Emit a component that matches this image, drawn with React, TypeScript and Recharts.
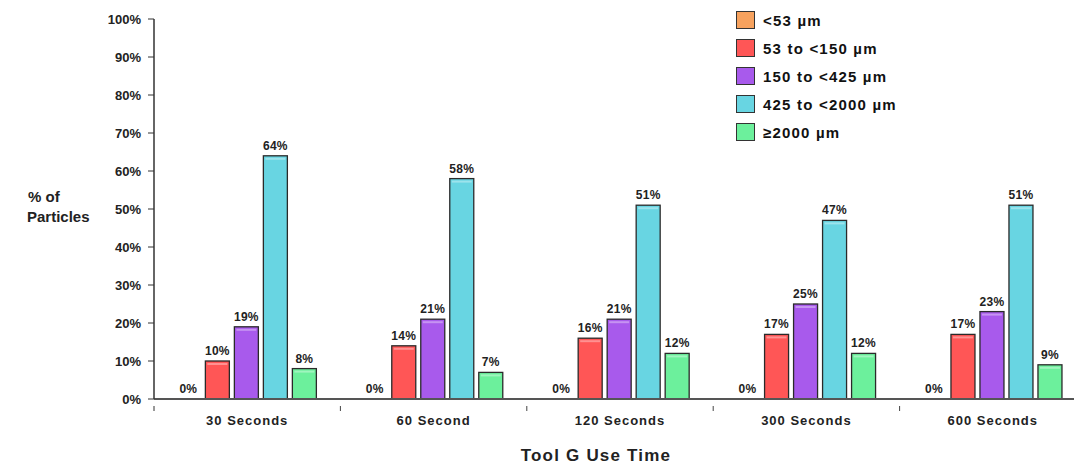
import React from "react";
import { BarChart, Bar, XAxis, YAxis, LabelList, Label } from "recharts";

const categories = ["30 Seconds", "60 Second", "120 Seconds", "300 Seconds", "600 Seconds"];
const under53 = [0, 0, 0, 0, 0];
const from53 = [10, 14, 16, 17, 17];
const from150 = [19, 21, 21, 25, 23];
const from425 = [64, 58, 51, 47, 51];
const over2000 = [8, 7, 12, 12, 9];
const yTicks = [0, 10, 20, 30, 40, 50, 60, 70, 80, 90, 100];

const seriesList = [
  { key: "a", name: "<53 µm", color: "#F7A25E", values: under53 },
  { key: "b", name: "53 to <150 µm", color: "#FF5656", values: from53 },
  { key: "c", name: "150 to <425 µm", color: "#A85AEC", values: from150 },
  { key: "d", name: "425 to <2000 µm", color: "#68D5E2", values: from425 },
  { key: "e", name: "≥2000 µm", color: "#6CF09C", values: over2000 },
];

const data = categories.map((cat, i) => {
  const row: Record<string, string | number> = { cat };
  seriesList.forEach((s) => (row[s.key] = s.values[i]));
  return row;
});

const FONT = '"Liberation Sans", Arial, sans-serif';
const CHART_W = 1090;
const PLOT_LEFT = 154;
const PLOT_RIGHT = 1086;
const HALF_BAND = (PLOT_RIGHT - PLOT_LEFT) / categories.length / 2;

const CatTick = (props: any) => {
  const { x, y, payload, index } = props;
  return (
    <g>
      <line x1={x + HALF_BAND} x2={x + HALF_BAND} y1={y - 1} y2={y + 4} stroke="#444" />
      {index === 0 && <line x1={x - HALF_BAND} x2={x - HALF_BAND} y1={y - 1} y2={y + 4} stroke="#333" />}
      <text x={x} y={y + 18} textAnchor="middle" fontSize={13} fontWeight="bold" fill="#222" fontFamily={FONT} letterSpacing={1}>
        {payload.value}
      </text>
    </g>
  );
};

// bar with dark outline and a light strip along the top
const ShadedBar = (props: any) => {
  const { x, y, width, height, fill } = props;
  if (!height || height < 1) return null;
  return (
    <g>
      <rect x={x} y={y} width={width} height={height} fill={fill} stroke="#2a2a2a" strokeWidth={1.3} />
      <rect x={x + 2} y={y + 2} width={Math.max(width - 4, 0)} height={Math.min(2, height - 3)} fill="#fff" fillOpacity={0.35} />
    </g>
  );
};

const LegendBox = () => (
  <div
    style={{
      position: "absolute",
      left: 736,
      top: 6,
      fontFamily: FONT,
      fontWeight: "bold",
      fontSize: 15,
      color: "#111",
    }}
  >
    {seriesList.map((s) => (
      <div key={s.key} style={{ display: "flex", alignItems: "center", height: 28 }}>
        <span
          style={{
            width: 17,
            height: 16,
            background: s.color,
            border: "1px solid #333",
            marginRight: 8,
            display: "inline-block",
          }}
        />
        <span style={{ letterSpacing: 1.2 }}>{s.name}</span>
      </div>
    ))}
  </div>
);

export default function App() {
  return (
    <div
      style={{
        position: "absolute",
        left: 0,
        top: 0,
        width: 1074,
        height: 464,
        overflow: "hidden",
        background: "#fff",
      }}
    >
      <BarChart
        width={CHART_W}
        height={464}
        data={data}
        margin={{ top: 19, right: CHART_W - PLOT_RIGHT, left: 0, bottom: 0 }}
        barCategoryGap="12%"
        barGap={5}
      >
        <XAxis
          dataKey="cat"
          height={65}
          axisLine={{ stroke: "#555", strokeWidth: 2 }}
          tickLine={false}
          tick={<CatTick />}
          interval={0}
        >
          <Label
            content={() => (
              <text x={596} y={461} textAnchor="middle" fontSize={17} fontWeight="bold" fill="#222" fontFamily={FONT} letterSpacing={1.2}>
                Tool G Use Time
              </text>
            )}
          />
        </XAxis>
        <YAxis
          width={PLOT_LEFT}
          domain={[0, 100]}
          ticks={yTicks}
          interval={0}
          tickSize={6}
          tickMargin={7}
          tickFormatter={(v) => `${v}%`}
          axisLine={{ stroke: "#333", strokeWidth: 1.5 }}
          tickLine={{ stroke: "#333" }}
          tick={{ fontSize: 13, fontWeight: "bold", fill: "#222", fontFamily: FONT }}
        >
          <Label
            content={() => (
              <text textAnchor="start" fontSize={15} fontWeight="bold" fill="#222" fontFamily={FONT}>
                <tspan x={28} y={202}>% of</tspan>
                <tspan x={27} y={222}>Particles</tspan>
              </text>
            )}
          />
        </YAxis>
        {seriesList.map((s) => (
          <Bar
            key={s.key}
            dataKey={s.key}
            name={s.name}
            fill={s.color}
            shape={<ShadedBar />}
            minPointSize={s.key === "a" ? 0.1 : 0}
            isAnimationActive={false}
          >
            <LabelList
              dataKey={s.key}
              position="top"
              offset={6}
              formatter={(v: any) => `${v}%`}
              style={{ fontSize: 12, fontWeight: "bold", fill: "#222", fontFamily: FONT, letterSpacing: 0.3 }}
            />
          </Bar>
        ))}
      </BarChart>
      <LegendBox />
    </div>
  );
}
